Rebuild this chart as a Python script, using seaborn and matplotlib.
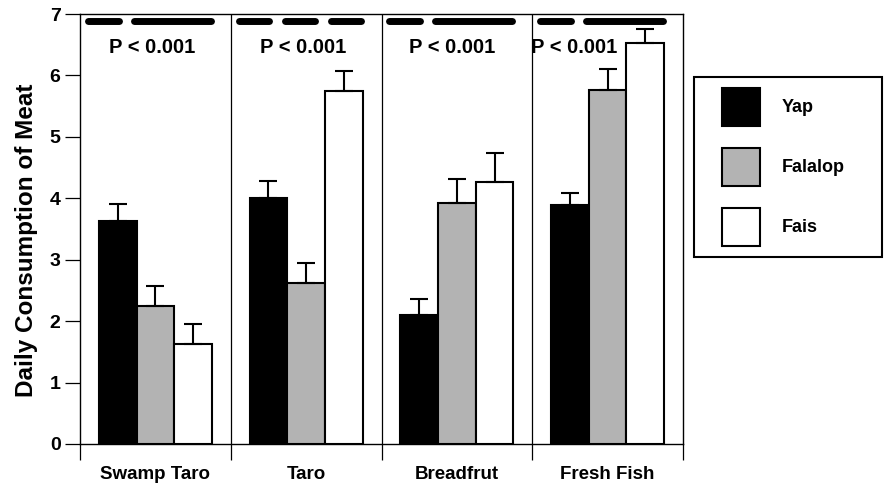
import matplotlib
matplotlib.use('Agg')
import numpy as np
import pandas as pd
import matplotlib.pyplot as plt
import matplotlib.patches as mpatches
from matplotlib.legend_handler import HandlerPatch
import seaborn as sns

# data
foods = ['Swamp Taro', 'Taro', 'Breadfrut', 'Fresh Fish']
islands = ['Yap', 'Falalop', 'Fais']
yap_mean = [3.63, 4.00, 2.10, 3.89]
yap_err = [0.28, 0.28, 0.26, 0.20]
falalop_mean = [2.24, 2.62, 3.93, 5.77]
falalop_err = [0.33, 0.33, 0.38, 0.34]
fais_mean = [1.63, 5.74, 4.27, 6.52]
fais_err = [0.32, 0.33, 0.46, 0.24]
p_labels = ['P < 0.001', 'P < 0.001', 'P < 0.001', 'P < 0.001']
# bars joined by one dash = not significantly different
sig_groups = [[[0], [1, 2]], [[0], [1], [2]], [[0], [1, 2]], [[0], [1, 2]]]

colors = ['#000000', '#b3b3b3', '#ffffff']

sns.set_theme(style='white')
plt.rcParams['font.family'] = ['Liberation Sans', 'DejaVu Sans']
plt.rcParams['font.weight'] = 'bold'
plt.rcParams['text.color'] = 'black'
plt.rcParams['axes.labelcolor'] = 'black'
plt.rcParams['xtick.color'] = 'black'
plt.rcParams['ytick.color'] = 'black'

df = pd.DataFrame({
    'food': foods * 3,
    'island': np.repeat(islands, len(foods)),
    'mean': yap_mean + falalop_mean + fais_mean,
})
errs = [yap_err, falalop_err, fais_err]

fig = plt.figure(figsize=(8.84, 4.91), dpi=100)
ax = fig.add_axes([80 / 884, 1 - 444 / 491, 603 / 884, 430 / 491])

sns.barplot(data=df, x='food', y='mean', hue='island', order=foods, hue_order=islands,
            palette=colors, errorbar=None, width=0.75, saturation=1,
            edgecolor='black', linewidth=1.5, legend=False, ax=ax)

# upward-only error bars
for cont, err in zip(ax.containers, errs):
    for bar, e in zip(cont, err):
        x = bar.get_x() + bar.get_width() / 2
        h = bar.get_height()
        ax.errorbar(x, h, yerr=[[0], [e]], fmt='none', ecolor='black',
                    elinewidth=1.5, capsize=6.8, capthick=1.5, zorder=1)

ax.set_xlim(-0.5, 3.5)
ax.set_ylim(0, 7)

# group dividers
ax.vlines([0.5, 1.5, 2.5], 0, 7, color='black', lw=0.9)

# significance dashes and p-values
pitch, seg_w, r = 0.305, 0.25, 0.023
p_dx = [-0.02, -0.02, -0.03, -0.22]
for g, groups in enumerate(sig_groups):
    for grp in groups:
        x0 = g - 0.47 + grp[0] * pitch + r
        x1 = g - 0.47 + grp[-1] * pitch + seg_w - r
        ax.plot([x0, x1], [6.886, 6.886], color='black', lw=5,
                solid_capstyle='round', clip_on=False)
    ax.text(g + p_dx[g], 6.46, p_labels[g], ha='center', va='center',
            fontsize=14.5, fontweight='bold')

# x axis: divider ticks below, category labels in between
ax.set_xticks([-0.5, 0.5, 1.5, 2.5, 3.5])
ax.set_xticklabels([])
ax.set_xticks(range(len(foods)), minor=True)
ax.set_xticklabels(foods, minor=True, fontsize=13.5, fontweight='bold')
ax.tick_params(axis='x', which='major', direction='out', length=11.5, width=0.9,
               color='black', bottom=True)
ax.tick_params(axis='x', which='minor', length=0, pad=16, bottom=True)
ax.set_xlabel('')

ax.set_yticks(range(8))
ax.tick_params(axis='y', direction='out', length=11, width=0.9, color='black',
               pad=3, labelsize=14, left=True)
for lab in ax.get_yticklabels():
    lab.set_fontweight('bold')
ax.set_ylabel('Daily Consumption of Meat', fontsize=17.5, fontweight='bold')
ax.yaxis.set_label_coords(-0.07, 0.474)

for s in ax.spines.values():
    s.set_visible(True)
    s.set_color('black')
    s.set_linewidth(1.0)


def square_patch(legend, orig_handle, xdescent, ydescent, width, height, fontsize):
    return mpatches.Rectangle((-xdescent + width - height, -ydescent), height, height)


handles = [mpatches.Patch(facecolor=c, edgecolor='black', linewidth=1.5) for c in colors]
leg = fig.legend(handles, islands, loc='upper left',
                 bbox_to_anchor=(694 / 884, 1 - 77 / 491, 188 / 884, 0),
                 bbox_transform=fig.transFigure, mode='expand', borderaxespad=0,
                 prop={'weight': 'bold', 'size': 13},
                 handlelength=3.05, handleheight=2.86, labelspacing=1.22,
                 handletextpad=1.22, borderpad=0.6, fancybox=False, framealpha=1,
                 handler_map={mpatches.Patch: HandlerPatch(patch_func=square_patch)})
leg.get_frame().set_edgecolor('black')
leg.get_frame().set_linewidth(1.5)

fig.savefig('out.png', dpi=100)
